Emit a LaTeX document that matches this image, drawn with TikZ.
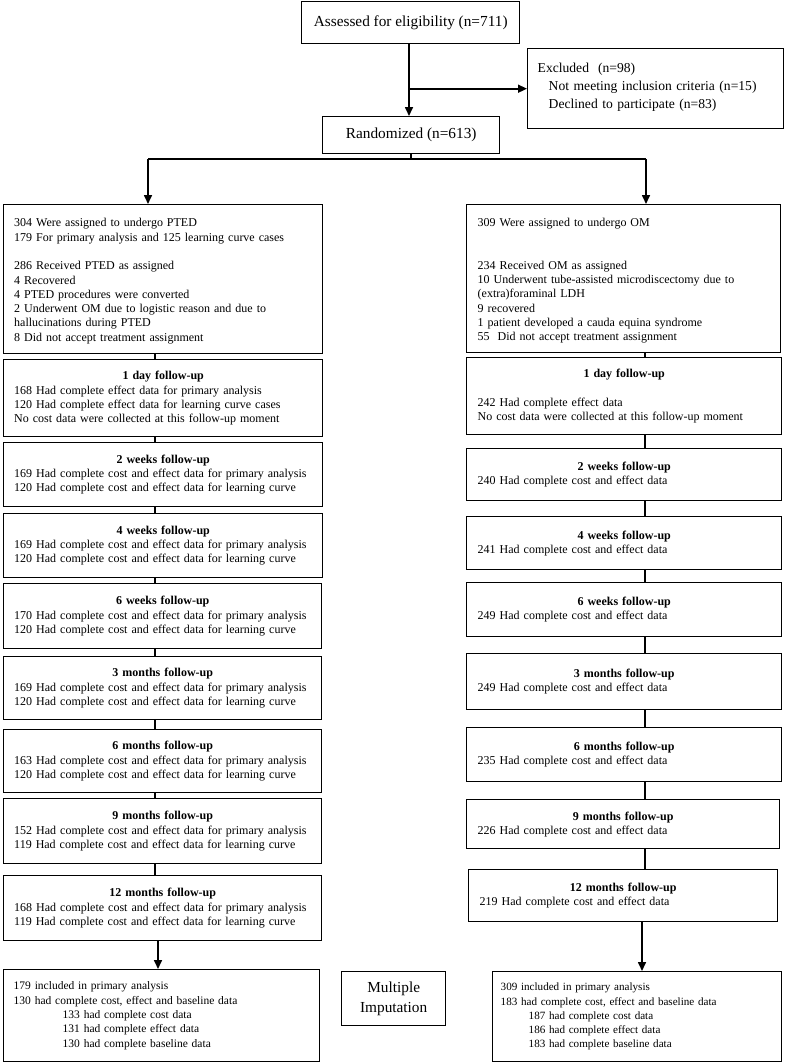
\documentclass[tikz,border=0pt]{standalone}
\usepackage{fontspec}
\setmainfont{Liberation Serif}
\usetikzlibrary{arrows.meta}
\newcommand\bodyfont{\fontsize{12.0}{14.3}\selectfont}
\newcommand\smallbody{\fontsize{11.5}{14.3}\selectfont}
\newcommand\rsmallbody{\fontsize{11.1}{14.3}\selectfont}
\newcommand\topfont{\fontsize{15.3}{20}\selectfont}
\newcommand\exfont{\fontsize{13.6}{18}\selectfont}
\newcommand\ttl[1]{\hfill\textbf{#1}\hfill\mbox{}}
\begin{document}
\begin{tikzpicture}[x=1pt,y=-1pt,
  box/.style={draw, line width=1.4pt, anchor=north west, inner xsep=11pt, inner ysep=0pt, align=left, font=\bodyfont},
  cbox/.style={draw, line width=1.4pt, anchor=north west, inner sep=0pt, align=center, font=\topfont},
  ln/.style={line width=1.6pt},
  arr/.style={ln, -{Triangle[length=9pt,width=8pt]}}]
\useasboundingbox (0,0) rectangle (786,1063);

% top
\node[cbox, minimum width=218pt, minimum height=42pt] (assess) at (301,1) {Assessed for eligibility (n=711)};
\node[box, font=\exfont, minimum width=256pt, minimum height=80pt, text width=236pt, inner xsep=10pt] (excl) at (527,48)
 {Excluded~~(n=98)\\ \hspace*{11pt}Not meeting inclusion criteria (n=15)\\ \hspace*{11pt}Declined to participate (n=83)\\[-13pt]\mbox{}};
\node[cbox, minimum width=177pt, minimum height=37pt] (rand) at (322,116) {Randomized (n=613)};

% left column
\node[box, minimum width=319pt, minimum height=149pt, text width=298pt, inner xsep=10.5pt] (l1) at (3,204)
 {\mbox{}\\[-2pt]304 Were assigned to undergo PTED\\
  179 For primary analysis and 125 learning curve cases\\[14.3pt]
  286 Received PTED as assigned\\
  4 Recovered\\
  4 PTED procedures were converted\\
  2 Underwent OM due to logistic reason and due to\\
  hallucinations during PTED\\
  8 Did not accept treatment assignment};
\node[box, minimum width=319pt, minimum height=77pt, text width=298pt, inner xsep=10.5pt] (l2) at (3,359)
 {\ttl{1 day follow-up}\\
  168 Had complete effect data for primary analysis\\
  120 Had complete effect data for learning curve cases\\
  No cost data were collected at this follow-up moment};
\node[box, minimum width=319pt, minimum height=64pt, text width=298pt, inner xsep=10.5pt] (l3) at (3,442)
 {\ttl{2 weeks follow-up}\\
  169 Had complete cost and effect data for primary analysis\\
  120 Had complete cost and effect data for learning curve};
\node[box, minimum width=319pt, minimum height=64pt, text width=298pt, inner xsep=10.5pt] (l4) at (3,513)
 {\ttl{4 weeks follow-up}\\
  169 Had complete cost and effect data for primary analysis\\
  120 Had complete cost and effect data for learning curve};
\node[box, minimum width=318pt, minimum height=65pt, text width=297pt, inner xsep=10.5pt] (l5) at (3,583)
 {\ttl{6 weeks follow-up}\\
  170 Had complete cost and effect data for primary analysis\\
  120 Had complete cost and effect data for learning curve};
\node[box, minimum width=318pt, minimum height=63pt, text width=297pt, inner xsep=10.5pt] (l6) at (3,656)
 {\ttl{3 months follow-up}\\
  169 Had complete cost and effect data for primary analysis\\
  120 Had complete cost and effect data for learning curve};
\node[box, minimum width=318pt, minimum height=63pt, text width=297pt, inner xsep=10.5pt] (l7) at (3,729)
 {\ttl{6 months follow-up}\\
  163 Had complete cost and effect data for primary analysis\\
  120 Had complete cost and effect data for learning curve};
\node[box, minimum width=318pt, minimum height=65pt, text width=297pt, inner xsep=10.5pt] (l8) at (3,798)
 {\ttl{9 months follow-up}\\
  152 Had complete cost and effect data for primary analysis\\
  119 Had complete cost and effect data for learning curve};
\node[box, minimum width=318pt, minimum height=65pt, text width=297pt, inner xsep=10.5pt] (l9) at (3,875)
 {\ttl{12 months follow-up}\\
  168 Had complete cost and effect data for primary analysis\\
  119 Had complete cost and effect data for learning curve};
\node[box, font=\smallbody, inner xsep=10pt, minimum width=316pt, minimum height=92pt, text width=296pt] (lf) at (3,969)
 {179 included in primary analysis\\
  130 had complete cost, effect and baseline data\\
  \hspace*{49pt}133 had complete cost data\\
  \hspace*{49pt}131 had complete effect data\\
  \hspace*{49pt}130 had complete baseline data};

% middle
\node[cbox, minimum width=104pt, minimum height=54pt] (mi) at (341,971) {Multiple\\Imputation};

% right column
\node[box, minimum width=314pt, minimum height=148pt, text width=292pt] (r1) at (466,204)
 {\mbox{}\\[-2pt]309 Were assigned to undergo OM\\[28.6pt]
  234 Received OM as assigned\\
  10 Underwent tube-assisted microdiscectomy due to\\
  (extra)foraminal LDH\\
  9 recovered\\
  1 patient developed a cauda equina syndrome\\
  55~~Did not accept treatment assignment};
\node[box, minimum width=315pt, minimum height=77pt, text width=293pt] (r2) at (466,357)
 {\ttl{1 day follow-up}\\[14.3pt]
  242 Had complete effect data\\
  No cost data were collected at this follow-up moment};
\node[box, minimum width=315pt, minimum height=52pt, text width=293pt] (r3) at (466,448)
 {\ttl{2 weeks follow-up}\\ 240 Had complete cost and effect data};
\node[box, minimum width=315pt, minimum height=53pt, text width=293pt] (r4) at (466,516)
 {\ttl{4 weeks follow-up}\\ 241 Had complete cost and effect data};
\node[box, minimum width=315pt, minimum height=54pt, text width=293pt] (r5) at (466,582)
 {\ttl{6 weeks follow-up}\\ 249 Had complete cost and effect data};
\node[box, minimum width=315pt, minimum height=56pt, text width=293pt] (r6) at (466,653)
 {\ttl{3 months follow-up}\\ 249 Had complete cost and effect data};
\node[box, minimum width=315pt, minimum height=54pt, text width=293pt] (r7) at (466,727)
 {\ttl{6 months follow-up}\\ 235 Had complete cost and effect data};
\node[box, minimum width=313pt, minimum height=49pt, text width=291pt] (r8) at (466,799)
 {\ttl{9 months follow-up}\\ 226 Had complete cost and effect data};
\node[box, minimum width=309pt, minimum height=52pt, text width=287pt] (r9) at (468,869)
 {\ttl{12 months follow-up}\\ 219 Had complete cost and effect data};
\node[box, font=\rsmallbody, inner xsep=8pt, minimum width=289pt, minimum height=90pt, text width=273pt] (rf) at (492,971)
 {309 included in primary analysis\\
  183 had complete cost, effect and baseline data\\
  \hspace*{28pt}187 had complete cost data\\
  \hspace*{28pt}186 had complete effect data\\
  \hspace*{28pt}183 had complete baseline data};

% connectors top
\coordinate (vx) at (409,0);
\draw[arr] (assess.south -| vx) -- (rand.north -| vx);
\draw[arr] (excl.west -| vx) -- (excl.west);
\coordinate (bl) at (148,159);
\coordinate (br) at (646,159);
\draw[ln] (rand.south) -- (rand.south |- bl);
\draw[ln] (bl) -- (br);
\draw[arr] (bl) -- (l1.north -| bl);
\draw[arr] (br) -- (r1.north -| br);

% left chain
\coordinate (lc) at (155,0);
\foreach \a/\b in {l1/l2,l2/l3,l3/l4,l4/l5,l5/l6,l6/l7,l7/l8,l8/l9}
  \draw[ln] (\a.south -| lc) -- (\b.north -| lc);
\coordinate (lc2) at (158,0);
\draw[arr] (l9.south -| lc2) -- (lf.north -| lc2);

% right chain
\coordinate (rc) at (645,0);
\foreach \a/\b in {r1/r2,r2/r3,r3/r4,r4/r5,r5/r6,r6/r7,r7/r8,r8/r9}
  \draw[ln] (\a.south -| rc) -- (\b.north -| rc);
\coordinate (rc2) at (642,0);
\draw[arr] (r9.south -| rc2) -- (rf.north -| rc2);
\end{tikzpicture}
\end{document}
